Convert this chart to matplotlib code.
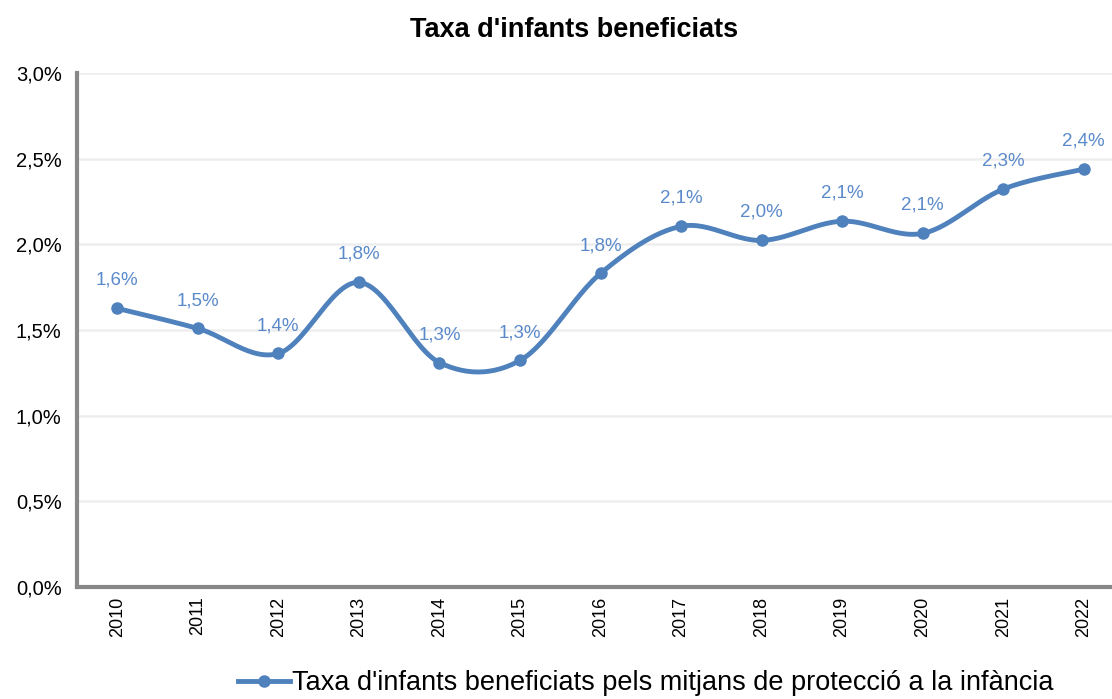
import numpy as np
import matplotlib
matplotlib.use("Agg")
import matplotlib.pyplot as plt
from matplotlib.ticker import FuncFormatter

plt.rcParams["font.family"] = ["Liberation Sans", "DejaVu Sans"]

years = ["2010", "2011", "2012", "2013", "2014", "2015", "2016",
         "2017", "2018", "2019", "2020", "2021", "2022"]
rate = [1.626, 1.509, 1.363, 1.778, 1.310, 1.322, 1.830,
        2.105, 2.023, 2.135, 2.064, 2.322, 2.439]
labels = ["1,6%", "1,5%", "1,4%", "1,8%", "1,3%", "1,3%", "1,8%",
          "2,1%", "2,0%", "2,1%", "2,1%", "2,3%", "2,4%"]

BLUE = "#4F81BD"
LABEL_BLUE = "#5B8ACB"


def smooth_curve(x, y, n=30):
    # Excel-style smoothed line: cubic bezier with Catmull-Rom control points
    x = np.asarray(x, float)
    y = np.asarray(y, float)
    xs, ys = [], []
    for i in range(len(x) - 1):
        p0 = np.array([x[max(i - 1, 0)], y[max(i - 1, 0)]])
        p1 = np.array([x[i], y[i]])
        p2 = np.array([x[i + 1], y[i + 1]])
        p3 = np.array([x[min(i + 2, len(x) - 1)], y[min(i + 2, len(x) - 1)]])
        c1 = p1 + (p2 - p0) / 6
        c2 = p2 - (p3 - p1) / 6
        t = np.linspace(0, 1, n)[:, None]
        pts = ((1 - t) ** 3) * p1 + 3 * ((1 - t) ** 2) * t * c1 + 3 * (1 - t) * t ** 2 * c2 + t ** 3 * p2
        xs.extend(pts[:, 0])
        ys.extend(pts[:, 1])
    return np.array(xs), np.array(ys)


W, H = 1112, 699
fig = plt.figure(figsize=(W / 100, H / 100), dpi=100)
left, right, top, bottom = 77, 1124, 73, 587
ax = fig.add_axes([left / W, 1 - bottom / H, (right - left) / W, (bottom - top) / H])

x = np.arange(len(years))
sx, sy = smooth_curve(x, rate)
ax.plot(sx, sy, color=BLUE, lw=3.5, solid_capstyle="round", zorder=3)
ax.plot(x, rate, "o", color=BLUE, ms=8, zorder=4)
legend_handle, = ax.plot([], [], "-o", color=BLUE, lw=3.5, ms=8,
                         label="Taxa d'infants beneficiats pels mitjans de protecció a la infància")

for xi, yi, lab in zip(x, rate, labels):
    ax.annotate(lab, (xi, yi), xytext=(0, 14), textcoords="offset points",
                ha="center", va="bottom", color=LABEL_BLUE, fontsize=13.5)

ax.set_xlim(-0.5, len(years) - 0.5)
ax.set_ylim(0, 3.0)
ax.set_yticks(np.arange(0, 3.01, 0.5))
ax.yaxis.set_major_formatter(FuncFormatter(lambda v, p: f"{v:.1f}%".replace(".", ",")))
ax.set_xticks(x)
ax.set_xticklabels(years, rotation=90)
ax.tick_params(axis="y", length=0, labelsize=14.5, colors="black", pad=11)
ax.tick_params(axis="x", length=0, labelsize=13, colors="black", pad=7)

ax.grid(axis="y", color="#EEEEEE", lw=1.8)
ax.set_axisbelow(True)
for side in ["top", "right"]:
    ax.spines[side].set_visible(False)
for side in ["left", "bottom"]:
    ax.spines[side].set_color("#888888")
    ax.spines[side].set_linewidth(3)

fig.suptitle("Taxa d'infants beneficiats", x=574 / W, y=1 - 30 / H, va="center",
             fontsize=19.5, fontweight="bold")

fig.legend(handles=[legend_handle], loc="center", bbox_to_anchor=(646 / W, 1 - 683 / H),
           frameon=False, fontsize=19.5, handlelength=1.9, handletextpad=0.1,
           borderpad=0.1)

fig.savefig("out.png", dpi=100)
